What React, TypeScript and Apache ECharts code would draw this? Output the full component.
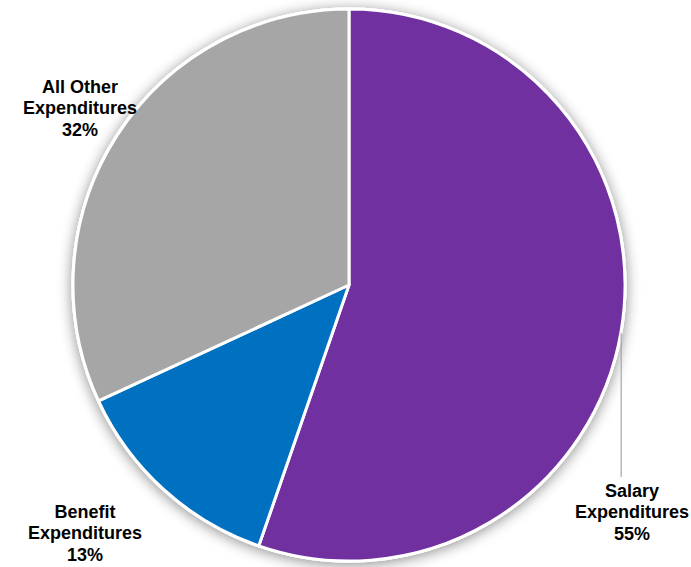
import React, { useEffect, useRef } from "react";
import * as echarts from "echarts";

const categories = ["Salary\nExpenditures", "Benefit\nExpenditures", "All Other\nExpenditures"];
const values = [55.3, 12.8, 31.9];
const colors = ["#7030A0", "#0070C0", "#A6A6A6"];

const labelPos: [number, number][] = [
  [632, 512],
  [85, 533],
  [80, 108],
];

export default function App() {
  const ref = useRef<HTMLDivElement>(null);
  useEffect(() => {
    if (!ref.current) return;
    const chart = echarts.init(ref.current, undefined, { renderer: "svg" });
    const cx = 349;
    const cy = 285;
    const r = 276;
    const total = values.reduce((a, b) => a + b, 0);
    const midFrac = values[0] / 2 / total;
    const ang = midFrac * Math.PI * 2;
    const lx = cx + r * Math.sin(ang);
    const ly = cy - r * Math.cos(ang);
    chart.setOption({
      animation: false,
      backgroundColor: "#ffffff",
      graphic: [
        {
          type: "line",
          shape: { x1: lx, y1: ly + 2, x2: lx, y2: 477 },
          style: { stroke: "#A6A6A6", lineWidth: 1.2 },
          z: 10,
        },
      ],
      series: [
        {
          type: "pie",
          silent: true,
          center: [cx, cy],
          radius: r + 1.5,
          label: { show: false },
          labelLine: { show: false },
          itemStyle: {
            color: "#ffffff",
            shadowBlur: 14,
            shadowOffsetY: 2,
            shadowColor: "rgba(0,0,0,0.45)",
          },
          data: [{ value: 1, name: "bg" }],
          z: 1,
        },
        {
          type: "pie",
          center: [cx, cy],
          radius: r,
          startAngle: 90,
          clockwise: true,
          avoidLabelOverlap: false,
          data: categories.map((c, i) => ({
            name: c,
            value: values[i],
            itemStyle: { color: colors[i] },
          })),
          itemStyle: { borderColor: "#ffffff", borderWidth: 3 },
          label: {
            show: true,
            position: "inside",
            overflow: "none",
            formatter: (p: any) => `${p.name}\n${Math.round(p.percent)}%`,
            fontFamily: "Liberation Sans, Arial, sans-serif",
            fontWeight: "bold",
            fontSize: 18,
            lineHeight: 21.5,
            color: "#000000",
            align: "center",
          },
          labelLine: { show: false },
          labelLayout: (p: any) => ({
            x: labelPos[p.dataIndex][0],
            y: labelPos[p.dataIndex][1],
            align: "center",
            verticalAlign: "middle",
            hideOverlap: false,
          }),
          z: 2,
        },
      ],
    });
    return () => chart.dispose();
  }, []);
  return (
    <div
      ref={ref}
      style={{ position: "fixed", left: 0, top: 0, width: 691, height: 567 }}
    />
  );
}
